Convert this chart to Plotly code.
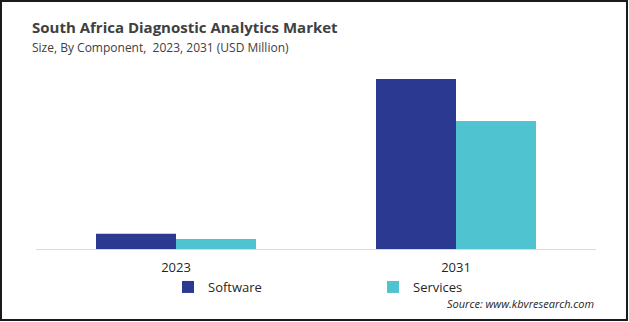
import plotly.graph_objects as go

# Market size by component (USD Million)
years = ["2023", "2031"]
software = [15.2, 170.0]
services = [10.1, 128.0]

NAVY = "#2b3990"
TEAL = "#4fc3cf"
FONT = "Open Sans, Noto Sans, DejaVu Sans, sans-serif"

W, H = 629, 322
L, R, T, B = 36, 33, 69, 73
plot_w = W - L - R
plot_h = H - T - B


def px_x(x):
    return (x - L) / plot_w


def px_y(y):
    return (H - B - y) / plot_h


fig = go.Figure()
fig.add_trace(go.Bar(name="Software", x=years, y=software, marker_color=NAVY,
                     marker_line_width=0))
fig.add_trace(go.Bar(name="Services", x=years, y=services, marker_color=TEAL,
                     marker_line_width=0))

fig.update_layout(
    width=W, height=H,
    margin=dict(l=L, r=R, t=T, b=B, autoexpand=False),
    paper_bgcolor="white", plot_bgcolor="white",
    barmode="group", bargap=0.4286, bargroupgap=0,
    font=dict(family=FONT, color="#404040"),
    showlegend=True,
    legend=dict(orientation="h", x=px_x(168), y=px_y(272),
                xanchor="left", yanchor="top",
                bgcolor="rgba(0,0,0,0)",
                font=dict(size=13, color="#262626"),
                entrywidth=160, entrywidthmode="pixels",
                itemclick=False),
    xaxis=dict(showgrid=False, showline=True, linecolor="#d9d9d9", linewidth=1,
               ticks="", ticklabelstandoff=6,
               tickfont=dict(size=13, color="#262626")),
    yaxis=dict(range=[0, 180], visible=False, showgrid=False, zeroline=False),
)

fig.add_annotation(text="<b>South Africa Diagnostic Analytics Market</b>",
                   xref="paper", yref="paper", x=px_x(30), y=px_y(27),
                   xanchor="left", yanchor="middle", showarrow=False,
                   font=dict(size=15, color="#404040", family=FONT))
fig.add_annotation(text="Size, By Component,  2023, 2031 (USD Million)",
                   xref="paper", yref="paper", x=px_x(30), y=px_y(47),
                   xanchor="left", yanchor="middle", showarrow=False,
                   font=dict(size=12, color="#404040", family=FONT))
fig.add_annotation(text="<i>Source: www.kbvresearch.com</i>",
                   xref="paper", yref="paper", x=px_x(596), y=px_y(303),
                   xanchor="right", yanchor="middle", showarrow=False,
                   font=dict(size=11, color="#262626", family=FONT))

# outer frame
fig.add_shape(type="rect", xref="paper", yref="paper",
              x0=px_x(1), x1=px_x(627), y0=px_y(320), y1=px_y(1),
              line=dict(color="#1a1a1a", width=2), fillcolor="rgba(0,0,0,0)")

fig.write_html("out.html")
